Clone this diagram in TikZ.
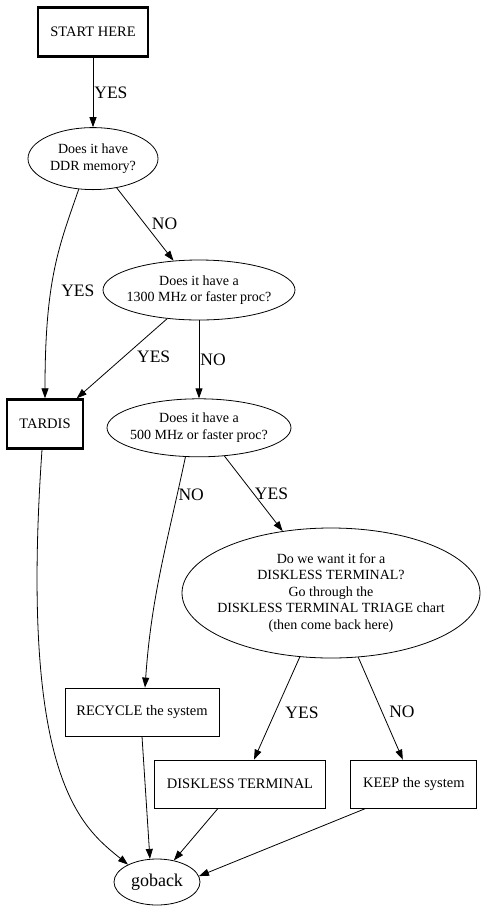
\documentclass[tikz,border=0pt]{standalone}
\usepackage{fontspec}
\setmainfont{Liberation Serif}
\usetikzlibrary{arrows.meta,positioning,shapes.geometric}

\begin{document}
\begin{tikzpicture}[
	x=1pt,y=1pt,
	>={Triangle[length=10pt,width=7pt]},
	line width=0.8pt,
	box/.style={
		draw,
		rectangle,
		minimum height=48pt,
		font=\fontsize{14.5}{16.5}\selectfont
	},
	firstbox/.style={box,line width=2.4pt,minimum height=49pt},
	ask/.style={
		draw,
		ellipse,
		align=center,
		inner xsep=-16pt,
		inner ysep=0pt,
		font=\fontsize{14}{16.5}\selectfont
	},
	ans/.style={
		font=\fontsize{17.5}{20}\selectfont,
		inner sep=1pt,
		anchor=west
	}
	]
	\useasboundingbox (0,0) rectangle (488,-914);
	
	\node[firstbox,minimum width=110pt](start) at (93,-32){START HERE};
	\node[ask,minimum width=130pt,minimum height=62pt,below=69.5pt of start](ddr){Does it have\\DDR memory?};
	\node[ask,minimum width=192pt,minimum height=60pt](q1300) at (199,-290){Does it have a\\1300 MHz or faster proc?};
	\node[ask,minimum width=184pt,minimum height=58pt,below=78pt of q1300](q500){Does it have a\\500 MHz or faster proc?};
	\node[firstbox,minimum width=76pt](tardis) at (45,-424){TARDIS};
	\node[ask,minimum width=298pt,minimum height=130pt](thin) at (331,-593){Do we want it for a\\DISKLESS TERMINAL?\\Go through the\\DISKLESS TERMINAL TRIAGE chart\\(then come back here)};
	\node[box,minimum width=154pt](recycle) at (142,-712){RECYCLE the system};
	\node[box,minimum width=171pt](diskless) at (240,-784){DISKLESS TERMINAL};
	\node[box,minimum width=126pt,right=24.5pt of diskless](keep){KEEP the system};
	\node[ask,minimum width=86pt,minimum height=46pt,font=\fontsize{18}{20}\selectfont](goback) at (157,-882){goback};
	
	\draw[->] (start) -- node[ans,pos=0.5]{YES} (ddr);
	\draw[->] (ddr.245) .. controls +(-109:60) and +(90:120) .. node[ans,pos=0.61,xshift=9pt]{YES} (tardis.north);
	\draw[->] (ddr.-51) -- node[ans,pos=0.49,xshift=6pt]{NO} (q1300.131);
	\draw[->] (q1300.222) -- node[ans,pos=0.48,xshift=12pt]{YES} (tardis.39);
	\draw[->] (q1300) -- node[ans,pos=0.5]{NO} (q500);
	\draw[->] (q500.245) to[out=-102,in=86] node[ans,pos=0.15]{NO} ([xshift=3pt]recycle.north);
	\draw[->] (q500.-48) -- node[ans,pos=0.5]{YES} (thin.128);
	\draw[->] (thin.244) -- node[ans,pos=0.54,xshift=9pt]{YES} ([xshift=14pt]diskless.north);
	\draw[->] (thin.-67) -- node[ans,pos=0.53,xshift=6pt]{NO} ([xshift=-11pt]keep.north);
	\draw[->] ([xshift=-3pt]tardis.south) .. controls +(-94:330) and +(141:60) .. (goback.149);
	\draw[->] (recycle.south) -- (goback.107);
	\draw[->] ([xshift=-22pt]diskless.south) -- (goback.52);
	\draw[->] ([xshift=-48pt]keep.south) -- (goback.8);
\end{tikzpicture}
\end{document}
